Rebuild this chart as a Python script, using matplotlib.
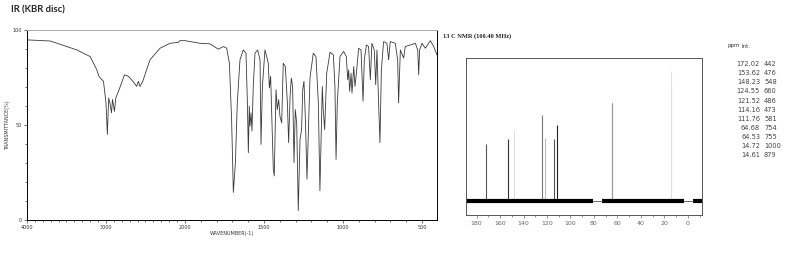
import numpy as np
import matplotlib
matplotlib.use("Agg")
import matplotlib.pyplot as plt

# IR spectrum (wavenumber cm-1, transmittance %)
ir_wn = [4000, 3705, 3368, 3200, 3116, 3090, 3032, 3000, 2983, 2966, 2950, 2930, 2918,
         2893, 2876, 2842, 2766, 2716, 2661, 2611, 2590, 2569, 2535, 2443, 2316, 2190,
         2084, 2063, 2000, 1905, 1842, 1789, 1757, 1736, 1719, 1705, 1694, 1681, 1669,
         1652, 1631, 1614, 1605, 1599, 1593, 1589, 1582, 1576, 1568, 1557, 1540, 1525,
         1519, 1510, 1494, 1483, 1473, 1466, 1458, 1441, 1435, 1424, 1416, 1407, 1399,
         1388, 1378, 1365, 1352, 1344, 1335, 1327, 1319, 1310, 1302, 1293, 1283, 1272,
         1262, 1255, 1247, 1238, 1228, 1219, 1209, 1188, 1171, 1156, 1146, 1137, 1131,
         1125, 1116, 1103, 1082, 1061, 1051, 1044, 1036, 1019, 996, 979, 970, 964, 958,
         949, 943, 932, 924, 915, 901, 886, 873, 865, 852, 838, 827, 817, 802, 793, 785,
         774, 766, 757, 743, 722, 711, 701, 669, 654, 648, 637, 616, 606, 574, 542, 527,
         521, 515, 500, 479, 447, 426, 405]
ir_t = [94.8, 94.2, 89.5, 86.0, 79.0, 75.6, 73.0, 61.6, 45.0, 64.2, 61.6, 56.4, 63.4,
        57.2, 64.2, 67.7, 76.4, 75.6, 73.0, 70.3, 73.0, 70.3, 73.0, 84.3, 90.4, 93.0,
        93.5, 94.4, 94.4, 93.0, 92.7, 89.9, 91.3, 90.4, 82.5, 52.9, 14.5, 30.2, 61.6,
        84.3, 89.5, 87.8, 61.6, 35.4, 59.9, 49.4, 56.4, 46.8, 70.3, 87.8, 89.5, 84.3,
        39.8, 70.3, 89.5, 86.0, 82.5, 69.5, 75.6, 26.7, 23.2, 68.6, 58.1, 63.4, 54.6,
        51.1, 82.5, 80.8, 61.6, 40.7, 65.1, 74.7, 70.3, 30.2, 58.1, 51.1, 4.9, 42.4,
        47.6, 68.6, 73.0, 52.9, 21.5, 47.6, 74.7, 87.8, 86.0, 61.6, 15.4, 49.4, 70.3,
        58.1, 47.6, 77.3, 88.3, 86.9, 70.3, 31.9, 61.6, 86.0, 88.7, 86.0, 73.8, 79.0, 67.7,
        77.3, 66.8, 80.8, 70.3, 77.3, 90.4, 89.5, 62.5, 84.3, 92.1, 91.3, 73.8, 93.0, 89.5, 71.2, 89.5,
        59.9, 40.7, 79.0, 93.9, 93.0, 84.3, 93.9, 93.0, 84.3, 61.6, 89.5, 85.2, 91.3, 92.1, 93.0, 89.5,
        76.4, 89.5, 93.0, 90.4, 94.4, 91.3, 86.9]

ir_xticks = [4000, 3000, 2000, 1500, 1000, 500]
ir_yticks = [0, 50, 100]

# 13C NMR peak list
nmr_ppm = [172.02, 153.62, 148.23, 124.55, 121.52, 114.16, 111.76, 64.68, 64.53, 14.72, 14.61]
nmr_int = [442, 476, 548, 660, 486, 473, 581, 754, 755, 1000, 879]
nmr_ppm_txt = ["172.02", "153.62", "148.23", "124.55", "121.52", "114.16", "111.76",
               "64.68", "64.53", "14.72", "14.61"]
nmr_int_txt = ["442", "476", "548", "660", "486", "473", "581", "754", "755", "1000", "879"]
peak_colors = ["#555555", "#333333", "#e0e0e0", "#777777", "#bbbbbb", "#555555", "#222222",
               "#999999", "#999999", "#e0e0e0", "#e0e0e0"]
# noisy baseline stretches and the flat gaps between them (ppm)
noise_parts = [(189, 80.5), (73.4, 3.1), (-4, -12)]
flat_parts = [(80.5, 73.4), (3.1, -4)]
nmr_xticks = [180, 160, 140, 120, 100, 80, 60, 40, 20, 0]


def fwd(w):
    w = np.asarray(w, dtype=float)
    return np.where(w <= 2000, w / 500.0, 4.0 + (w - 2000) / 1000.0)


def inv(v):
    v = np.asarray(v, dtype=float)
    return np.where(v <= 4, v * 500.0, 2000 + (v - 4) * 1000.0)


fig = plt.figure(figsize=(8, 2.62), dpi=100)

fig.text(11 / 800, 1 - 10 / 262, "IR (KBR disc)", family="Lato", fontweight="bold",
         fontsize=6.8, va="center", ha="left", color="#222222")

# IR panel
ax = fig.add_axes([27 / 800, 1 - 220 / 262, 410 / 800, 190 / 262])
ax.set_xscale("function", functions=(fwd, inv))
ax.plot(ir_wn, ir_t, color="#3a3a3a", lw=0.6)
ax.set_xlim(4000, 405)
ax.set_ylim(0, 100)
ax.set_xticks(ir_xticks)
ax.set_xticklabels([str(v) for v in ir_xticks])
ax.set_xticks(np.arange(500, 4000, 100), minor=True)
ax.set_yticks(ir_yticks)
ax.set_yticks(np.arange(0, 101, 10), minor=True)
ax.tick_params(which="both", labelsize=3.5, length=2, width=0.5, pad=1.5, colors="#333333")
ax.tick_params(which="minor", length=1.2)
ax.set_xlabel("WAVENUMBER(-1)", fontsize=3.5, labelpad=1, color="#333333")
ax.set_ylabel("TRANSMITTANCE(%)", fontsize=3.5, labelpad=2, color="#333333")
for s in ax.spines.values():
    s.set_linewidth(0.7)
ax.spines["top"].set_color("#aaaaaa")

fig.text(443 / 800, 1 - 36 / 262, "13 C NMR (100.40 MHz)", family="Liberation Serif",
         fontweight="bold", fontsize=4.6, va="center", ha="left", color="#222222")

# NMR panel
ax2 = fig.add_axes([466 / 800, 1 - 215 / 262, 236 / 800, 157 / 262])
ax2.vlines(nmr_ppm, 0, nmr_int, colors=peak_colors, lw=0.8)
for a, b in noise_parts:
    ax2.plot([a, b], [0, 0], color="black", lw=3.0, solid_capstyle="butt")
for a, b in flat_parts:
    ax2.plot([a, b], [0, 0], color="#555555", lw=0.6)
ax2.set_xlim(189, -12)
ax2.set_ylim(-108, 1100)
ax2.set_xticks(nmr_xticks)
ax2.set_xticks(np.arange(-10, 190, 10), minor=True)
ax2.set_yticks([])
ax2.tick_params(which="both", labelsize=4.5, length=2, width=0.5, pad=2, colors="#666666")
ax2.tick_params(which="minor", length=1.2)
for s in ax2.spines.values():
    s.set_linewidth(0.7)
    s.set_color("#555555")

# peak table
fig.text(728 / 800, 1 - 46 / 262, "ppm", fontsize=4, va="center", ha="left", color="#333333")
fig.text(741 / 800, 1 - 46 / 262, "Int.", fontsize=4, va="center", ha="left", color="#333333")
for i in range(len(nmr_ppm_txt)):
    y = 1 - (64.3 + i * 9.05) / 262
    fig.text(760 / 800, y, nmr_ppm_txt[i], fontsize=4.8, va="center", ha="right", color="#444444")
    fig.text(764 / 800, y, nmr_int_txt[i], fontsize=4.8, va="center", ha="left", color="#444444")

fig.savefig("out.png", dpi=100)
